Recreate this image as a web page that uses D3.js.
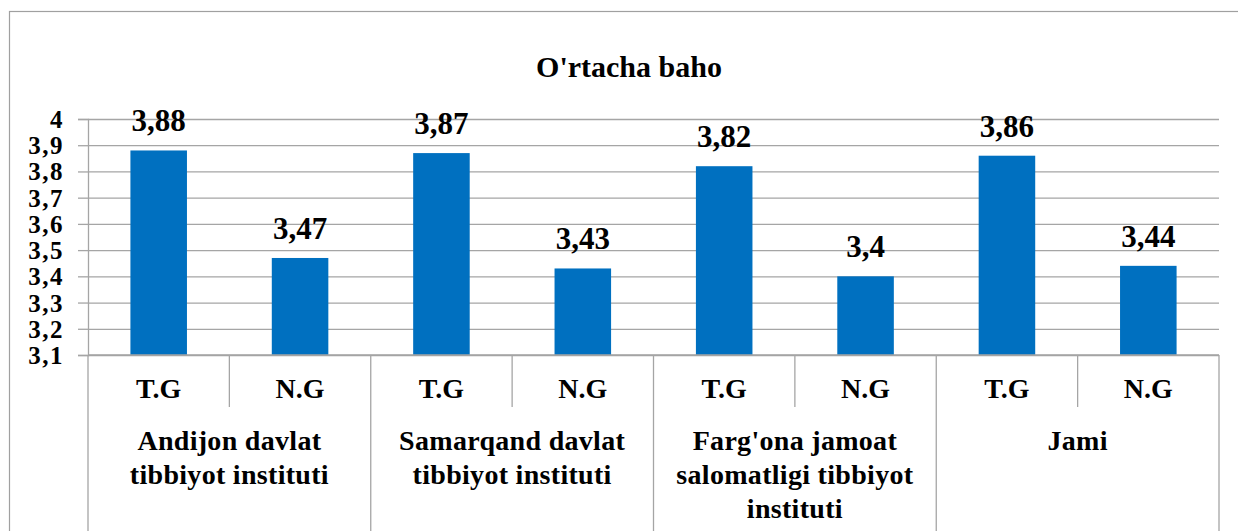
<!DOCTYPE html>
<html>
<head>
<meta charset="utf-8">
<title>O'rtacha baho</title>
<script src="https://cdn.jsdelivr.net/npm/d3@7"></script>
<style>
  body { margin: 0; background: #ffffff; }
</style>
</head>
<body>
<div id="chart"></div>
<script>
// data
const groupLines = [
  ["Andijon davlat", "tibbiyot instituti"],
  ["Samarqand davlat", "tibbiyot instituti"],
  ["Farg'ona jamoat", "salomatligi tibbiyot", "instituti"],
  ["Jami"]
];
const subCats = ["T.G", "N.G"];
const values = [3.88, 3.47, 3.87, 3.43, 3.82, 3.4, 3.86, 3.44];
const yTicks = [3.1, 3.2, 3.3, 3.4, 3.5, 3.6, 3.7, 3.8, 3.9, 4];
const title = "O'rtacha baho";

const W = 1238, H = 531;
const plot = {left: 88, right: 1219, top: 119, bottom: 355};
const gridColor = "#a5a5a5";
const FONT = "Liberation Serif";
const comma = v => String(v).replace(".", ",");

const rows = values.map((v, i) => ({
  key: i, group: Math.floor(i / subCats.length), sub: subCats[i % subCats.length], value: v
}));

const svg = d3.select("#chart").append("svg")
  .attr("width", W).attr("height", H);

// bold serif text helper
function txt(sel, size) {
  return sel.style("font-family", FONT)
    .style("font-weight", "bold")
    .style("font-size", size + "px")
    .attr("fill", "#000");
}

// chart frame
svg.append("rect")
  .attr("x", 9.5).attr("y", 11.5)
  .attr("width", 1240).attr("height", 560)
  .attr("fill", "none").attr("stroke", "#a0a0a0").attr("stroke-width", 1.2);

txt(svg.append("text"), 30)
  .attr("x", 629).attr("y", 77)
  .attr("text-anchor", "middle")
  .text(title);

const x = d3.scaleBand()
  .domain(rows.map(d => d.key))
  .range([plot.left, plot.right])
  .paddingInner(0.6).paddingOuter(0.3);

const y = d3.scaleLinear()
  .domain([3.1, 4])
  .range([plot.bottom, plot.top]);

// gridlines
svg.append("g")
  .attr("transform", `translate(${plot.left},0)`)
  .call(d3.axisLeft(y).tickValues(yTicks).tickSize(-(plot.right - plot.left)).tickFormat(""))
  .call(g => g.select(".domain").remove())
  .call(g => g.selectAll("line").attr("stroke", gridColor).attr("stroke-width", 1.3));

// y axis
svg.append("g")
  .attr("transform", `translate(${plot.left},0)`)
  .call(d3.axisLeft(y).tickValues(yTicks).tickSize(10).tickPadding(14).tickFormat(comma))
  .call(g => g.select(".domain").attr("stroke", gridColor).attr("stroke-width", 1.3))
  .call(g => g.selectAll(".tick line").attr("stroke", gridColor).attr("stroke-width", 1.3))
  .call(g => txt(g.selectAll(".tick text"), 25).attr("dy", "0.34em").style("letter-spacing", "1.5px"));

// bars
svg.append("g").selectAll("rect")
  .data(rows).join("rect")
  .attr("x", d => x(d.key))
  .attr("y", d => y(d.value))
  .attr("width", x.bandwidth())
  .attr("height", d => y(3.1) - y(d.value))
  .attr("fill", "#0070c0");

// value labels
txt(svg.append("g").selectAll("text")
  .data(rows).join("text"), 31)
  .attr("x", d => x(d.key) + x.bandwidth() / 2)
  .attr("y", d => y(d.value) - 19)
  .attr("text-anchor", "middle")
  .text(d => comma(d.value));

// category axis
const step = x.step();
const cat = svg.append("g");
cat.append("line")
  .attr("x1", plot.left).attr("x2", plot.right)
  .attr("y1", plot.bottom).attr("y2", plot.bottom)
  .attr("stroke", gridColor).attr("stroke-width", 1.3);

// dividers between sub categories and groups
rows.forEach((d, i) => {
  const xe = x(d.key) - x.paddingOuter() * step;
  const isGroupEdge = i % subCats.length === 0;
  cat.append("line")
    .attr("x1", xe).attr("x2", xe)
    .attr("y1", plot.bottom).attr("y2", isGroupEdge ? 540 : 407)
    .attr("stroke", gridColor).attr("stroke-width", 1.3);
});
cat.append("line")
  .attr("x1", plot.right).attr("x2", plot.right)
  .attr("y1", plot.bottom).attr("y2", 540)
  .attr("stroke", gridColor).attr("stroke-width", 1.3);

// sub category labels
txt(cat.selectAll("text.sub")
  .data(rows).join("text"), 28)
  .attr("class", "sub")
  .attr("x", d => x(d.key) + x.bandwidth() / 2)
  .attr("y", 398)
  .attr("text-anchor", "middle")
  .text(d => d.sub);

// group labels
groupLines.forEach((lines, gi) => {
  const first = rows[gi * subCats.length].key;
  const last = rows[gi * subCats.length + subCats.length - 1].key;
  const cx = (x(first) + x(last) + x.bandwidth()) / 2;
  const t = txt(cat.append("text"), 28)
    .attr("text-anchor", "middle")
    .style("letter-spacing", "0.3px");
  lines.forEach((ln, li) => {
    t.append("tspan").attr("x", cx).attr("y", 450 + li * 34).text(ln);
  });
});
</script>
</body>
</html>
